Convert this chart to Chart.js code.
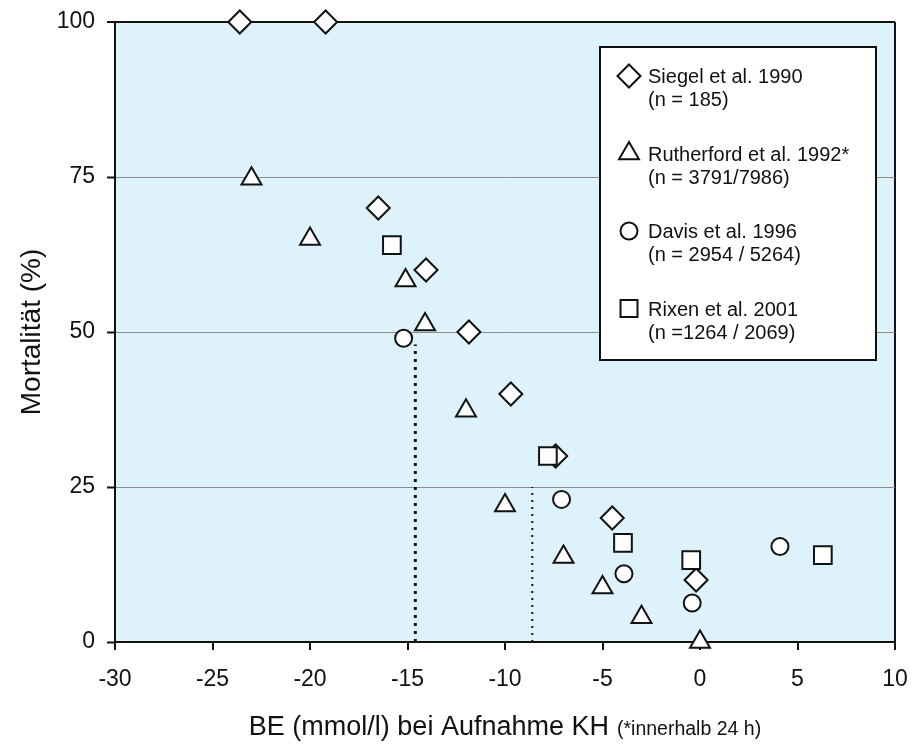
<!DOCTYPE html>
<html>
<head>
<meta charset="utf-8">
<script src="https://cdn.jsdelivr.net/npm/chart.js@4"></script>
<style>
  body { margin: 0; background: #fff; }
</style>
</head>
<body>
<canvas id="chart" width="913" height="744"></canvas>
<script>
// values
const siegelX = [-23.6, -19.2, -16.5, -14.05, -11.85, -9.7, -7.4, -4.5, -0.2];
const siegelY = [100, 100, 70, 60, 50, 40, 30, 20, 10];
const rutherfordX = [-23, -20, -15.1, -14.1, -12, -10, -7, -5, -3, 0];
const rutherfordY = [74.7, 65, 58.3, 51.2, 37.3, 22, 13.7, 8.8, 4, 0];
const davisX = [-15.2, -7.1, -3.9, -0.4, 4.1];
const davisY = [49, 23, 11, 6.3, 15.4];
const rixenX = [-15.8, -7.8, -3.95, -0.45, 6.3];
const rixenY = [64, 30, 16, 13.2, 14];
const refLine1X = [-14.6, -14.6];
const refLine1Y = [0, 48];
const refLine2X = [-8.6, -8.6];
const refLine2Y = [0, 25];

const legendLines = [
    ['Siegel et al. 1990', '(n = 185)'],
    ['Rutherford et al. 1992*', '(n = 3791/7986)'],
    ['Davis et al. 1996', '(n = 2954 / 5264)'],
    ['Rixen et al. 2001', '(n =1264 / 2069)']
];
const legendShapes = ['rectRot', 'triangle', 'circle', 'rect'];

const FONT = "'Liberation Sans', Arial, sans-serif";
const INK = '#111';

const pts = (xs, ys) => xs.map((x, i) => ({ x: x, y: ys[i] }));

function marker(label, xs, ys, style, radius, order) {
    return {
        label: label,
        data: pts(xs, ys),
        pointStyle: style,
        pointRadius: radius,
        pointBackgroundColor: '#fff',
        pointBorderColor: INK,
        pointBorderWidth: 2,
        showLine: false,
        clip: false,
        order: order
    };
}

function refLine(xs, ys, width, dash) {
    return {
        data: pts(xs, ys),
        showLine: true,
        pointRadius: 0,
        borderColor: INK,
        borderWidth: width,
        borderDash: dash,
        order: 10
    };
}

// own symbol drawing for the legend box
function drawShape(ctx, style, x, y, r) {
    ctx.beginPath();
    if (style === 'circle') {
        ctx.arc(x, y, r, 0, Math.PI * 2);
    } else if (style === 'rect') {
        const s = r * Math.SQRT1_2;
        ctx.rect(x - s, y - s, 2 * s, 2 * s);
    } else if (style === 'rectRot') {
        ctx.moveTo(x, y - r); ctx.lineTo(x + r, y); ctx.lineTo(x, y + r); ctx.lineTo(x - r, y);
        ctx.closePath();
    } else if (style === 'triangle') {
        for (let k = 0; k < 3; k++) {
            const a = k * 2 * Math.PI / 3;
            const px = x + Math.sin(a) * r, py = y - Math.cos(a) * r;
            k ? ctx.lineTo(px, py) : ctx.moveTo(px, py);
        }
        ctx.closePath();
    }
    ctx.fillStyle = '#fff';
    ctx.fill();
    ctx.lineWidth = 2;
    ctx.strokeStyle = INK;
    ctx.stroke();
}

const plotBg = {
    id: 'plotBg',
    beforeDraw(chart) {
        const { ctx, chartArea: a } = chart;
        ctx.save();
        ctx.fillStyle = '#ddf2fb';
        ctx.fillRect(a.left, a.top, a.right - a.left, a.bottom - a.top);
        ctx.restore();
    }
};

const extras = {
    id: 'extras',
    afterDatasetsDraw(chart) {
        const { ctx, chartArea: a } = chart;
        ctx.save();

        // legend box
        const left = a.left + 485, top = a.top + 25, w = 276, h = 313;
        ctx.fillStyle = '#fff';
        ctx.fillRect(left, top, w, h);
        ctx.lineWidth = 2;
        ctx.strokeStyle = INK;
        ctx.strokeRect(left, top, w, h);
        ctx.font = '20px ' + FONT;
        ctx.fillStyle = INK;
        ctx.textBaseline = 'alphabetic';
        ctx.textAlign = 'left';
        legendLines.forEach((lines, i) => {
            const base = top + 36 + i * 77.5;
            drawShape(ctx, legendShapes[i], left + 29, base - 7, legendShapes[i] === 'circle' ? 8.5 : (legendShapes[i] === 'rect' ? 12 : 11.5));
            ctx.fillStyle = INK;
            ctx.fillText(lines[0], left + 48, base);
            ctx.fillText(lines[1], left + 48, base + 23);
        });

        // y title
        ctx.save();
        ctx.translate(40, (a.top + a.bottom) / 2);
        ctx.rotate(-Math.PI / 2);
        ctx.textAlign = 'center';
        ctx.font = '28px ' + FONT;
        ctx.fillText('Mortalität (%)', 0, 0);
        ctx.restore();

        // x title, main part plus small note
        const main = 'BE (mmol/l) bei Aufnahme KH';
        const note = '(*innerhalb 24 h)';
        const mainFont = '27px ' + FONT, noteFont = '19.5px ' + FONT;
        ctx.font = mainFont;
        const w1 = ctx.measureText(main).width;
        ctx.font = noteFont;
        const w2 = ctx.measureText(note).width;
        const gap = 8;
        const x0 = (a.left + a.right) / 2 - (w1 + gap + w2) / 2;
        const yb = a.bottom + 93;
        ctx.textAlign = 'left';
        ctx.font = mainFont;
        ctx.fillText(main, x0, yb);
        ctx.font = noteFont;
        ctx.fillText(note, x0 + w1 + gap, yb);

        ctx.restore();
    }
};

new Chart(document.getElementById('chart'), {
    type: 'scatter',
    data: {
        datasets: [
            marker('Siegel et al. 1990', siegelX, siegelY, 'rectRot', 11.5, 3),
            marker('Rutherford et al. 1992*', rutherfordX, rutherfordY, 'triangle', 11.5, 2),
            marker('Davis et al. 1996', davisX, davisY, 'circle', 8.5, 1),
            marker('Rixen et al. 2001', rixenX, rixenY, 'rect', 12.5, 0),
            refLine(refLine1X, refLine1Y, 3, [3, 5]),
            refLine(refLine2X, refLine2Y, 2, [2, 5])
        ]
    },
    options: {
        responsive: false,
        animation: false,
        devicePixelRatio: 1,
        layout: { padding: { top: 22, right: 18, left: 0, bottom: 0 } },
        plugins: {
            legend: { display: false },
            tooltip: { enabled: false }
        },
        scales: {
            x: {
                type: 'linear',
                min: -30,
                max: 10,
                afterFit: (s) => { s.height = 102; s.paddingLeft = 0; s.paddingRight = 0; },
                ticks: {
                    stepSize: 5,
                    color: INK,
                    padding: 16,
                    font: { family: FONT, size: 23 }
                },
                grid: {
                    color: (c) => c.tick && c.tick.value === 10 ? INK : 'transparent',
                    lineWidth: 2,
                    tickColor: INK,
                    tickLength: 8,
                    tickWidth: 2
                },
                border: { color: INK, width: 2 }
            },
            y: {
                type: 'linear',
                min: 0,
                max: 100,
                afterFit: (s) => { s.width = 115; s.paddingTop = 0; s.paddingBottom = 0; },
                ticks: {
                    stepSize: 25,
                    color: INK,
                    padding: 12,
                    font: { family: FONT, size: 23 }
                },
                grid: {
                    color: (c) => c.tick && c.tick.value === 100 ? INK : (c.tick && c.tick.value === 0 ? 'transparent' : '#8c8c8c'),
                    lineWidth: (c) => c.tick && c.tick.value === 100 ? 2 : 1,
                    tickColor: INK,
                    tickLength: 8,
                    tickWidth: 2
                },
                border: { color: INK, width: 2 }
            }
        }
    },
    plugins: [plotBg, extras]
});
</script>
</body>
</html>
